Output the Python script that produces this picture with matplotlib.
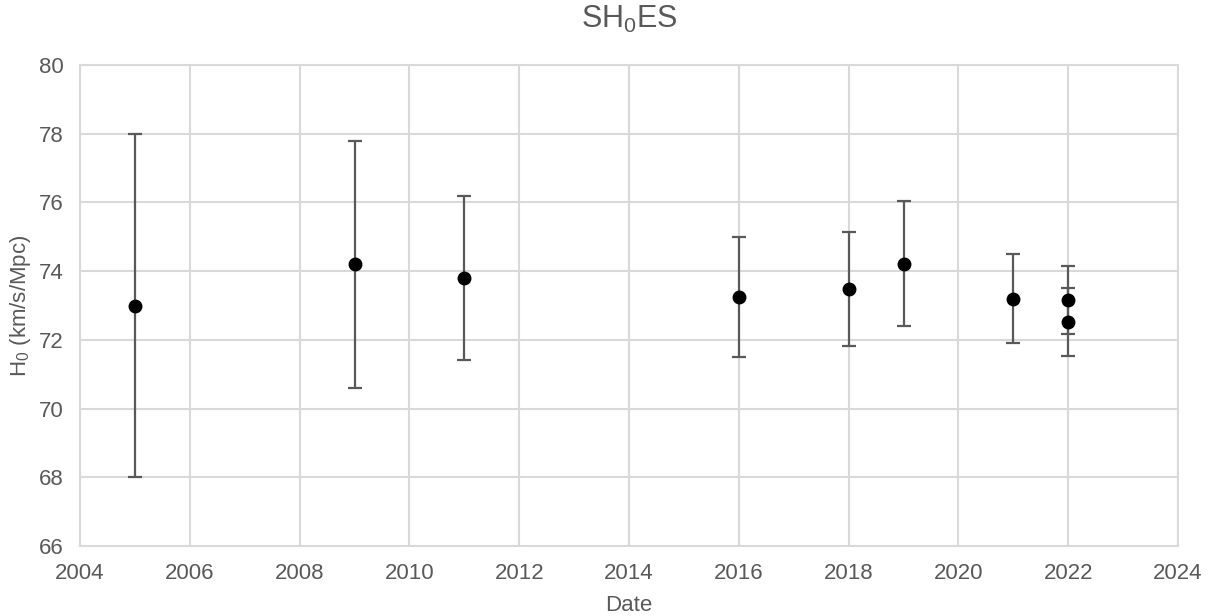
import numpy as np
import matplotlib
matplotlib.use("Agg")
import matplotlib.pyplot as plt

years = [2005, 2009, 2011, 2016, 2018, 2019, 2021, 2022, 2022]
h0 = [73.0, 74.2, 73.8, 73.24, 73.48, 74.22, 73.2, 73.15, 72.53]
h0_err = [5.0, 3.6, 2.4, 1.74, 1.66, 1.82, 1.3, 0.99, 0.99]

x_ticks = list(range(2004, 2025, 2))
y_ticks = list(range(66, 81, 2))

plt.rcParams["font.family"] = ["Liberation Sans", "DejaVu Sans"]
plt.rcParams["mathtext.fontset"] = "custom"
plt.rcParams["mathtext.rm"] = "Liberation Sans"
plt.rcParams["mathtext.it"] = "Liberation Sans"

text_col = "#595959"
grid_col = "#d9d9d9"

fig = plt.figure(figsize=(12.09, 6.16), dpi=100)
ax = fig.add_axes([80 / 1209, 1 - 546 / 616, (1178 - 80) / 1209, (546 - 65) / 616])

ax.errorbar(
    years, h0, yerr=h0_err,
    fmt="o", color="black", markersize=9,
    ecolor=text_col, elinewidth=1.6, capsize=5, capthick=1.6, zorder=3,
)

ax.set_xlim(2004, 2024)
ax.set_ylim(66, 80)
ax.set_xticks(x_ticks)
ax.set_yticks(y_ticks)
ax.grid(True, color=grid_col, linewidth=1.5)
ax.set_axisbelow(True)
for s in ax.spines.values():
    s.set_color(grid_col)
    s.set_linewidth(1.5)
ax.tick_params(length=0, labelsize=16, colors=text_col)
ax.tick_params(axis="x", pad=12)
ax.tick_params(axis="y", pad=12)

ax.set_title("SH$_\\mathrm{0}$ES", fontsize=22, color=text_col, pad=27)
ax.set_xlabel("Date", fontsize=16, color=text_col, labelpad=8)
ax.set_ylabel("H$_\\mathrm{0}$ (km/s/Mpc)", fontsize=16, color=text_col, labelpad=4)

fig.savefig("out.png", dpi=100)
